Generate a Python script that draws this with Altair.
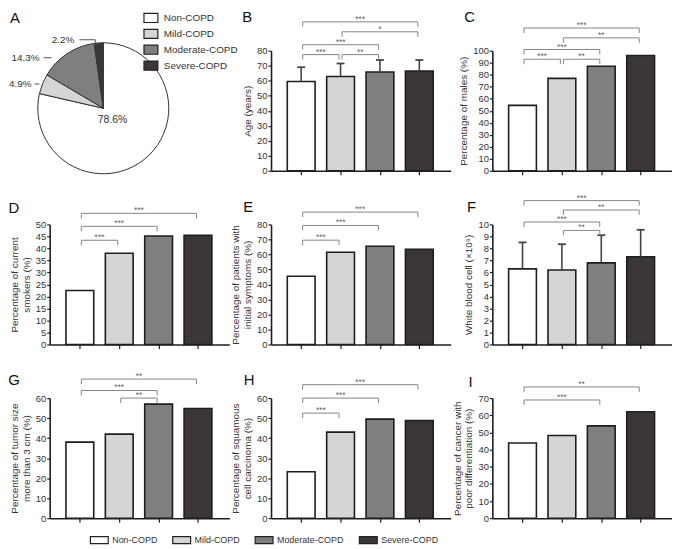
import math
import numpy as np
import pandas as pd
import altair as alt

# ---------------- data ----------------
GROUPS = ["Non-COPD", "Mild-COPD", "Moderate-COPD", "Severe-COPD"]
FILLS = ["#ffffff", "#d5d5d5", "#7f7f7f", "#3b3737"]

PIE_PCT = [78.6, 4.9, 14.3, 2.2]
PIE_LABELS = ["78.6%", "4.9%", "14.3%", "2.2%"]

AGE = [59.5, 62.8, 65.8, 66.5]
AGE_UPPER = [69.0, 71.5, 73.8, 73.8]
MALES = [54.5, 77.0, 87.0, 96.0]
SMOKERS = [22.5, 38.0, 45.2, 45.5]
SYMPTOMS = [45.5, 61.5, 65.5, 63.5]
WBC = [6.3, 6.2, 6.8, 7.3]
WBC_UPPER = [8.5, 8.35, 9.1, 9.55]
TUMOR = [38.0, 42.0, 57.0, 54.8]
SQUAMOUS = [23.2, 43.0, 49.5, 48.8]
POORDIFF = [43.8, 48.2, 53.8, 62.0]

# significance brackets: (group a, group b, bracket level, label)
SIG_B = [(0, 3, 99.2, "***"), (1, 3, 92.6, "*"), (0, 2, 84.0, "***"), (0, 1, 77.4, "***"), (1, 2, 77.4, "**")]
SIG_C = [(0, 3, 118.9, "***"), (1, 3, 110.7, "**"), (0, 2, 101.0, "***"), (0, 1, 92.9, "***"), (1, 2, 92.9, "**")]
SIG_D = [(0, 3, 54.6, "***"), (0, 2, 49.2, "***"), (0, 1, 43.4, "***")]
SIG_E = [(0, 3, 88.2, "***"), (0, 2, 79.3, "***"), (0, 1, 69.5, "***")]
SIG_F = [(0, 3, 11.98, "***"), (1, 3, 11.2, "**"), (0, 2, 10.2, "***"), (1, 2, 9.5, "**")]
SIG_G = [(0, 3, 69.5, "**"), (0, 2, 63.8, "***"), (1, 2, 60.0, "**")]
SIG_H = [(0, 3, 66.7, "***"), (0, 2, 60.0, "***"), (0, 1, 52.5, "***")]
SIG_I = [(0, 3, 76.5, "**"), (0, 2, 68.9, "***")]

# ---------------- style ----------------
FONT = "Liberation Sans"
W, H = 181, 121
BAR_W = 28
XDOM = [-0.64, 3.67]
EDGE = "#1e1e1e"
SIG_COLOR = "#858585"
STAR_COLOR = "#666666"
ERR_COLOR = "#444444"

color_scale = alt.Scale(domain=GROUPS, range=FILLS)


def bar_panel(letter, letter_xy, values, ymax, ystep, title, sig, upper=None, legend=None):
    df = pd.DataFrame({"pos": list(range(4)), "group": GROUPS, "value": values})
    xs = alt.Scale(domain=XDOM, nice=False, zero=False)
    ys = alt.Scale(domain=[0, ymax], nice=False, zero=True)
    xax = alt.Axis(values=[0, 1, 2, 3], labels=False, title=None, grid=False, tickSize=4)
    ticks = [float(round(v, 6)) for v in np.arange(0, ymax + ystep / 2, ystep)]
    yax = alt.Axis(values=ticks, title=title, grid=False, format="d", tickSize=3)

    def X(f):
        return alt.X(f"{f}:Q", scale=xs, axis=xax)

    def Y(f, **kw):
        return alt.Y(f"{f}:Q", scale=ys, axis=yax, **kw)

    layers = [
        alt.Chart(df).mark_bar(size=BAR_W, stroke=EDGE, strokeWidth=1.6, orient="vertical").encode(
            x=X("pos"), y=Y("value", stack=None),
            color=alt.Color("group:N", scale=color_scale, legend=legend),
        )
    ]
    if upper is not None:
        edf = pd.DataFrame({"pos": list(range(4)), "value": values, "upper": upper})
        layers.append(
            alt.Chart(edf).mark_rule(color=ERR_COLOR, strokeWidth=1.6).encode(
                x=X("pos"), y=Y("value"), y2="upper:Q"))
        layers.append(
            alt.Chart(edf).mark_rule(color=ERR_COLOR, strokeWidth=1.8, xOffset=-4, x2Offset=4).encode(
                x=X("pos"), x2="pos:Q", y=Y("upper")))
    sdf = pd.DataFrame(sig, columns=["a", "b", "level", "stars"])
    sdf["mid"] = (sdf["a"] + sdf["b"]) / 2
    layers += [
        alt.Chart(sdf).mark_rule(color=SIG_COLOR, strokeWidth=1, xOffset=1.5, x2Offset=-1.5).encode(
            x=X("a"), x2="b:Q", y=Y("level")),
        alt.Chart(sdf).mark_rule(color=SIG_COLOR, strokeWidth=1, xOffset=1.5, y2Offset=5).encode(
            x=X("a"), y=Y("level"), y2="level:Q"),
        alt.Chart(sdf).mark_rule(color=SIG_COLOR, strokeWidth=1, xOffset=-1.5, y2Offset=5).encode(
            x=X("b"), y=Y("level"), y2="level:Q"),
        alt.Chart(sdf).mark_text(font=FONT, fontSize=8.5, color=STAR_COLOR, baseline="middle", dy=-3).encode(
            x=X("mid"), y=Y("level"), text="stars:N"),
        alt.Chart(pd.DataFrame({"t": [letter]})).mark_text(
            font=FONT, fontSize=15, color="#111", align="center", baseline="middle").encode(
            text="t:N", x=alt.value(letter_xy[0]), y=alt.value(letter_xy[1])),
    ]
    return alt.layer(*layers).properties(width=W, height=H)


# ---------------- pie panel ----------------
CX, CY, R = 54, 58, 66
pie_df = pd.DataFrame({"group": GROUPS, "pct": PIE_PCT, "order": list(range(4))})
cum = np.cumsum([0.0] + PIE_PCT[:-1])
mid = [(c + p / 2) / 100 * 2 * math.pi for c, p in zip(cum, PIE_PCT)]
ex = [CX + R * math.sin(m) for m in mid]
ey = [CY - R * math.cos(m) for m in mid]

inner_lab = pd.DataFrame({
    "x": [CX + 15 * math.sin(mid[0])], "y": [CY - 15 * math.cos(mid[0])], "label": [PIE_LABELS[0]]})
outer_lab = pd.DataFrame({
    "x": [ex[1] - 11, ex[2] - 27.5, ex[3] - 24.5],
    "y": [ey[1], ey[2] + 4, ey[3] - 3.2],
    "label": PIE_LABELS[1:],
})
leaders = pd.DataFrame({
    "x": [ex[1] - 8, ex[2] - 23.5, ex[3] - 19.5, ex[3] - 3.5],
    "x2": [ex[1] - 3, ex[2] - 15.5, ex[3] - 3.5, ex[3] - 3.5],
    "y": [ey[1], ey[2] + 4, ey[3] - 3.2, ey[3] - 3.2],
    "y2": [ey[1], ey[2] + 4, ey[3] - 3.2, ey[3] + 2],
})

pxs = alt.Scale(domain=[0, W], nice=False, zero=False)
pys = alt.Scale(domain=[0, H], nice=False, zero=False, reverse=True)

pie_symbol = "M-1,-0.65H1V0.65H-1Z"
arc = alt.Chart(pie_df).mark_arc(outerRadius=R, stroke="#333333", strokeWidth=1).encode(
    theta=alt.Theta("pct:Q", stack=True),
    order=alt.Order("order:Q"),
    color=alt.Color("group:N", scale=color_scale, legend=alt.Legend(
        orient="none", legendX=94, legendY=-41, title=None, direction="vertical",
        symbolType=pie_symbol, symbolSize=196, labelOffset=5, rowPadding=1,
        labelFontSize=10)),
    x=alt.value(CX), y=alt.value(CY),
)
lead = alt.Chart(leaders).mark_rule(color="#555555", strokeWidth=1).encode(
    x=alt.X("x:Q", scale=pxs, axis=None), x2="x2:Q",
    y=alt.Y("y:Q", scale=pys, axis=None), y2="y2:Q")
t_in = alt.Chart(inner_lab).mark_text(font=FONT, fontSize=10.5, color="#333", align="center", baseline="middle").encode(
    x=alt.X("x:Q", scale=pxs, axis=None), y=alt.Y("y:Q", scale=pys, axis=None), text="label:N")
t_out = alt.Chart(outer_lab).mark_text(font=FONT, fontSize=10, color="#333", align="right", baseline="middle").encode(
    x=alt.X("x:Q", scale=pxs, axis=None), y=alt.Y("y:Q", scale=pys, axis=None), text="label:N")
a_let = alt.Chart(pd.DataFrame({"t": ["A"]})).mark_text(
    font=FONT, fontSize=15, color="#111", align="center", baseline="middle").encode(
    text="t:N", x=alt.value(-35), y=alt.value(-33))
pie_panel = alt.layer(arc, lead, t_in, t_out, a_let).properties(width=W, height=H)

bottom_symbol = "M-1,-0.39H1V0.39H-1Z"
bottom_legend = alt.Legend(
    orient="none", legendX=40, legendY=133, title=None, direction="horizontal", columns=4,
    symbolType=bottom_symbol, symbolSize=324, labelOffset=3, columnPadding=12,
    labelFontSize=9)

pB = bar_panel("B", (-24, -34), AGE, 80, 10, "Age (years)", SIG_B, upper=AGE_UPPER)
pC = bar_panel("C", (-23, -34), MALES, 100, 10, "Percentage of males (%)", SIG_C)
pD = bar_panel("D", (-36, -16), SMOKERS, 50, 5, ["Percentage of current", "smokers (%)"], SIG_D)
pE = bar_panel("E", (-23, -17), SYMPTOMS, 80, 10, ["Percentage of patients with", "initial symptoms (%)"], SIG_E)
pF = bar_panel("F", (-21, -18), WBC, 10, 1, "White blood cell (\u00d710\u2079)", SIG_F, upper=WBC_UPPER)
pG = bar_panel("G", (-36, -18), TUMOR, 60, 10, ["Percentage of tumor size", "more than 3 cm (%)"], SIG_G,
               legend=bottom_legend)
pH = bar_panel("H", (-22, -18), SQUAMOUS, 60, 10, ["Percentage of squamous", "cell carcinoma (%)"], SIG_H)
pI = bar_panel("I", (-22, -16), POORDIFF, 70, 10, ["Percentage of cancer with", "poor differentiation (%)"], SIG_I)

chart = alt.concat(
    pie_panel, pB, pC, pD, pE, pF, pG, pH, pI,
    columns=3, spacing={"row": 54, "column": 42}, bounds="flush",
).resolve_scale(
    x="independent", y="independent", color="independent"
).resolve_legend(color="independent").properties(padding=0).configure_view(
    stroke=None
).configure_axis(
    labelFont=FONT, titleFont=FONT, labelFontSize=9.5, titleFontSize=10, titleFontWeight="normal",
    labelColor="#333", titleColor="#333", domainColor=EDGE, domainWidth=1.6,
    tickColor=EDGE, tickWidth=1.2, labelPadding=1, titlePadding=4, grid=False,
).configure_legend(
    labelFont=FONT, labelColor="#333", symbolStrokeColor="#222", symbolStrokeWidth=1.2,
)

chart.save("out.html", embed_options={"renderer": "svg", "actions": False})
